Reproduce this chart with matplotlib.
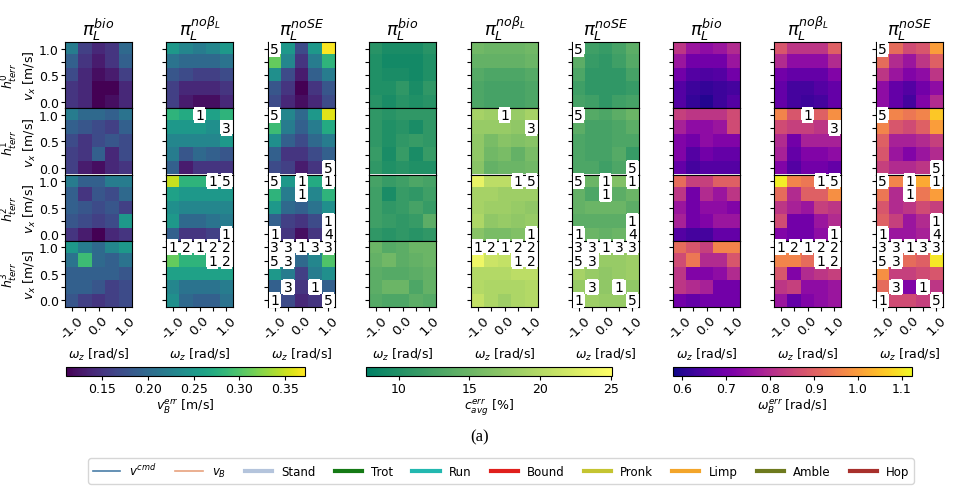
import numpy as np
import matplotlib.pyplot as plt
from matplotlib.lines import Line2D

nan = np.nan

omega_z = [-1.0, -0.5, 0.0, 0.5, 1.0]
v_x = [1.0, 0.75, 0.5, 0.25, 0.0]      # rows of each block, top to bottom
policies = [r'$\pi_L^{bio}$', r'$\pi_L^{no\beta_L}$', r'$\pi_L^{noSE}$']

# each panel: 4 terrain blocks (h0..h3) x 5 rows (v_x 1.0 -> 0.0) x 5 cols (w_z -1 -> 1)
# --- v_B err [m/s]
vel_bio = [
    [0.22, 0.16, 0.14, 0.15, 0.20], [0.19, 0.15, 0.13, 0.15, 0.19], [0.17, 0.14, 0.12, 0.13, 0.16],
    [0.15, 0.14, 0.11, 0.11, 0.14], [0.15, 0.14, 0.11, 0.12, 0.14],
    [0.22, 0.20, 0.20, 0.19, 0.21], [0.19, 0.18, 0.17, 0.16, 0.19], [0.17, 0.15, 0.17, 0.18, 0.17],
    [0.16, 0.15, 0.19, 0.14, 0.17], [0.16, 0.13, 0.12, 0.14, 0.15],
    [0.22, 0.19, 0.19, 0.22, 0.22], [0.19, 0.15, 0.18, 0.17, 0.20], [0.19, 0.18, 0.17, 0.18, 0.16],
    [0.18, 0.17, 0.16, 0.17, 0.25], [0.15, 0.13, 0.11, 0.14, 0.15],
    [0.25, 0.22, 0.20, 0.23, 0.25], [0.21, 0.29, 0.20, 0.19, 0.21], [0.19, 0.19, 0.19, 0.19, 0.18],
    [0.19, 0.19, 0.18, 0.16, 0.17], [0.18, 0.16, 0.15, 0.16, 0.17],
]
vel_nob = [
    [0.25, 0.23, 0.22, 0.23, 0.25], [0.21, 0.20, 0.20, 0.20, 0.21], [0.18, 0.17, 0.16, 0.16, 0.17],
    [0.16, 0.14, 0.14, 0.14, 0.15], [0.16, 0.13, 0.12, 0.12, 0.14],
    [0.28, 0.27, nan, 0.26, 0.28], [0.25, 0.25, 0.25, 0.24, nan], [0.23, 0.23, 0.23, 0.23, 0.25],
    [0.22, 0.18, 0.20, 0.19, 0.18], [0.19, 0.13, 0.15, 0.15, 0.15],
    [0.35, 0.28, 0.28, nan, nan], [0.26, 0.25, 0.25, 0.25, 0.25], [0.24, 0.23, 0.23, 0.23, 0.23],
    [0.25, 0.20, 0.20, 0.21, 0.22], [0.19, 0.15, 0.15, 0.16, nan],
    [nan, nan, nan, nan, nan], [0.31, 0.28, 0.28, nan, nan], [0.26, 0.26, 0.26, 0.26, 0.26],
    [0.23, 0.21, 0.21, 0.21, 0.22], [0.24, 0.20, 0.19, 0.19, 0.21],
]
vel_nose = [
    [nan, 0.25, 0.17, 0.25, 0.37], [0.31, 0.23, 0.15, 0.22, 0.28], [0.24, 0.17, 0.13, 0.19, 0.22],
    [0.18, 0.15, 0.11, 0.15, 0.18], [0.17, 0.14, 0.12, 0.14, 0.17],
    [nan, 0.23, 0.20, 0.25, 0.36], [0.29, 0.22, 0.19, 0.22, 0.27], [0.24, 0.19, 0.17, 0.20, 0.22],
    [0.19, 0.15, 0.15, 0.17, 0.19], [0.17, 0.16, 0.13, 0.15, nan],
    [nan, 0.25, nan, 0.27, nan], [0.28, 0.22, nan, 0.23, 0.28], [0.25, 0.20, 0.19, 0.21, 0.24],
    [0.19, 0.16, 0.15, 0.17, nan], [nan, 0.15, 0.12, 0.15, nan],
    [nan, nan, nan, nan, nan], [nan, nan, 0.20, 0.23, 0.30], [0.25, 0.22, 0.16, 0.22, 0.24],
    [0.19, nan, 0.15, nan, 0.19], [nan, 0.17, 0.14, 0.15, nan],
]

# --- c_avg err [%]
cont_bio = [
    [10.5, 9.5, 9.5, 9.5, 10.5], [10.0, 9.0, 9.0, 9.0, 10.0], [10.0, 9.5, 9.5, 9.0, 10.0],
    [10.0, 10.0, 11.0, 9.5, 11.0], [10.5, 9.5, 10.5, 10.0, 10.5],
    [11.0, 10.5, 11.0, 11.0, 11.0], [11.0, 10.0, 10.5, 9.5, 11.0], [11.0, 10.0, 11.0, 11.5, 11.0],
    [11.5, 9.5, 11.5, 9.5, 11.5], [11.0, 10.0, 10.5, 10.0, 10.0],
    [12.5, 11.5, 12.0, 13.0, 12.5], [12.0, 9.5, 11.5, 11.0, 12.0], [12.0, 11.0, 11.5, 12.5, 11.5],
    [12.0, 11.5, 11.0, 11.5, 14.0], [11.0, 10.5, 11.0, 10.5, 11.0],
    [15.0, 13.5, 14.0, 15.0, 15.0], [14.5, 15.5, 14.0, 14.5, 15.0], [14.0, 13.5, 13.5, 14.0, 14.5],
    [14.0, 15.0, 15.0, 13.0, 14.5], [13.5, 13.0, 13.0, 14.0, 13.5],
]
cont_nob = [
    [15.5, 15.0, 15.0, 15.0, 15.5], [14.5, 14.5, 14.5, 14.5, 15.0], [13.5, 13.0, 13.0, 13.0, 13.5],
    [13.0, 12.5, 12.5, 12.5, 13.0], [13.0, 12.5, 12.5, 12.5, 13.0],
    [19.0, 18.5, nan, 18.0, 19.0], [18.0, 18.0, 18.0, 17.5, nan], [17.5, 16.0, 17.0, 16.5, 17.0],
    [17.5, 15.5, 16.0, 14.5, 16.0], [17.0, 14.5, 15.0, 15.0, 15.5],
    [23.5, 20.5, 20.5, nan, nan], [19.0, 19.0, 18.5, 18.5, 18.5], [19.0, 18.5, 18.5, 18.0, 17.5],
    [19.5, 17.5, 18.0, 17.5, 18.0], [17.0, 16.0, 16.0, 16.5, nan],
    [nan, nan, nan, nan, nan], [24.0, 21.5, 21.0, nan, nan], [20.0, 20.0, 20.0, 20.5, 20.5],
    [20.0, 19.5, 19.5, 19.5, 20.0], [21.0, 19.5, 18.5, 19.5, 20.0],
]
cont_nose = [
    [nan, 12.0, 11.5, 12.5, 14.0], [14.0, 11.5, 11.0, 12.0, 13.5], [13.0, 11.0, 11.0, 11.0, 12.5],
    [12.0, 11.0, 11.0, 11.0, 11.5], [12.5, 12.0, 11.0, 12.0, 12.5],
    [nan, 13.5, 13.0, 14.0, 15.0], [14.0, 12.5, 12.5, 13.0, 14.0], [13.0, 12.5, 12.5, 13.0, 13.0],
    [13.0, 12.5, 12.5, 13.5, 11.5], [13.0, 13.0, 12.0, 13.0, nan],
    [nan, 15.0, nan, 16.5, nan], [14.5, 13.0, nan, 14.0, 15.0], [14.5, 15.0, 15.0, 15.0, 14.0],
    [14.0, 14.0, 14.0, 14.0, nan], [nan, 15.0, 14.5, 15.0, nan],
    [nan, nan, nan, nan, nan], [nan, nan, 18.0, 18.0, 18.5], [19.0, 18.0, 17.5, 18.0, 18.5],
    [18.0, nan, 17.5, nan, 17.5], [nan, 18.5, 18.0, 18.0, nan],
]

# --- w_B err [rad/s]
yaw_bio = [
    [0.82, 0.76, 0.74, 0.76, 0.80], [0.76, 0.70, 0.70, 0.70, 0.76], [0.70, 0.66, 0.65, 0.66, 0.70],
    [0.66, 0.63, 0.62, 0.63, 0.64], [0.66, 0.62, 0.60, 0.63, 0.66],
    [0.84, 0.82, 0.82, 0.82, 0.86], [0.78, 0.74, 0.74, 0.76, 0.86], [0.72, 0.70, 0.74, 0.72, 0.72],
    [0.72, 0.66, 0.70, 0.68, 0.68], [0.68, 0.64, 0.66, 0.66, 0.66],
    [0.92, 0.84, 0.84, 0.90, 0.90], [0.82, 0.70, 0.80, 0.76, 0.82], [0.76, 0.70, 0.74, 0.74, 0.72],
    [0.78, 0.70, 0.72, 0.76, 0.76], [0.66, 0.64, 0.64, 0.68, 0.68],
    [0.92, 0.88, 0.84, 0.96, 0.96], [0.86, 0.94, 0.80, 0.80, 0.88], [0.82, 0.72, 0.72, 0.74, 0.80],
    [0.82, 0.80, 0.78, 0.70, 0.70], [0.70, 0.68, 0.70, 0.70, 0.70],
]
yaw_nob = [
    [0.88, 0.82, 0.82, 0.82, 0.90], [0.80, 0.74, 0.74, 0.74, 0.80], [0.70, 0.68, 0.68, 0.68, 0.72],
    [0.68, 0.64, 0.64, 0.66, 0.68], [0.68, 0.64, 0.63, 0.64, 0.68],
    [0.96, 0.88, nan, 0.90, 0.98], [0.86, 0.84, 0.84, 0.82, nan], [0.80, 0.70, 0.78, 0.78, 0.78],
    [0.78, 0.68, 0.72, 0.72, 0.74], [0.72, 0.66, 0.70, 0.70, 0.68],
    [1.11, 0.96, 0.94, nan, nan], [0.92, 0.80, 0.90, 0.90, 0.98], [0.82, 0.78, 0.76, 0.84, 0.82],
    [0.86, 0.70, 0.70, 0.76, 0.80], [0.72, 0.70, 0.70, 0.74, nan],
    [nan, nan, nan, nan, nan], [0.96, 0.96, 0.92, nan, nan], [0.88, 0.72, 0.80, 0.82, 0.84],
    [0.82, 0.84, 0.74, 0.74, 0.76], [0.76, 0.68, 0.72, 0.74, 0.76],
]
yaw_nose = [
    [nan, 0.92, 0.86, 0.88, 1.00], [0.92, 0.80, 0.76, 0.82, 0.90], [0.82, 0.76, 0.72, 0.74, 0.82],
    [0.74, 0.68, 0.66, 0.70, 0.74], [0.74, 0.68, 0.64, 0.72, 0.80],
    [nan, 0.96, 0.94, 0.96, 1.06], [0.96, 0.88, 0.86, 0.90, 1.00], [0.90, 0.78, 0.78, 0.80, 0.84],
    [0.88, 0.76, 0.72, 0.76, 0.80], [0.84, 0.80, 0.80, 0.82, nan],
    [nan, 0.96, nan, 1.02, nan], [0.94, 0.80, nan, 0.94, 1.00], [0.88, 0.80, 0.82, 0.86, 0.84],
    [0.90, 0.84, 0.76, 0.80, nan], [nan, 0.76, 0.76, 0.78, nan],
    [nan, nan, nan, nan, nan], [nan, nan, 0.92, 0.90, 1.10], [0.98, 0.84, 0.84, 0.86, 0.88],
    [0.92, nan, 0.72, nan, 0.82], [nan, 0.86, 0.86, 0.84, nan],
]

# numbers written in the white cells (same for every metric)
lbl_bio = ["     "] * 20
lbl_nob = ["     ", "     ", "     ", "     ", "     ",
           "  1  ", "    3", "     ", "     ", "     ",
           "   15", "     ", "     ", "     ", "    1",
           "12122", "   12", "     ", "     ", "     "]
lbl_nose = ["5    ", "     ", "     ", "     ", "     ",
            "5    ", "     ", "     ", "     ", "    5",
            "5 1 1", "  1  ", "     ", "    1", "1   4",
            "33133", "53   ", "     ", " 3 1 ", "1   5"]

metrics = [
    ([vel_bio, vel_nob, vel_nose], 'viridis', 0.11, 0.372, [0.15, 0.20, 0.25, 0.30, 0.35],
     r'$v_B^{err}$ [m/s]'),
    ([cont_bio, cont_nob, cont_nose], 'summer', 7.7, 25.1, [10, 15, 20, 25],
     r'$c_{avg}^{err}$ [%]'),
    ([yaw_bio, yaw_nob, yaw_nose], 'plasma', 0.58, 1.123, [0.6, 0.7, 0.8, 0.9, 1.0, 1.1],
     r'$\omega_B^{err}$ [rad/s]'),
]
labels = [lbl_bio, lbl_nob, lbl_nose]

W, H = 960, 489
fig = plt.figure(figsize=(W / 100, H / 100), dpi=100)

col_left = [65, 166, 268, 369, 471, 572, 673, 774, 876]
ax_w = 67
top = 43
blk_h = 66.25
cbar_pos = [(66, 305), (366, 612), (673, 912)]
fs = 9

for m, (panels, cname, vmin, vmax, cticks, clabel) in enumerate(metrics):
    cmap = plt.get_cmap(cname).copy()
    cmap.set_bad('white')
    for p in range(3):
        data = np.array(panels[p], dtype=float)
        lbl = labels[p]
        x0 = col_left[m * 3 + p]
        for b in range(4):
            y_top = top + b * blk_h
            ax = fig.add_axes([x0 / W, 1 - (y_top + blk_h) / H, ax_w / W, blk_h / H])
            im = ax.imshow(data[b * 5:(b + 1) * 5], cmap=cmap, vmin=vmin, vmax=vmax,
                           extent=[-1.25, 1.25, -0.125, 1.125], aspect='auto',
                           interpolation='nearest')
            for i in range(5):
                for j in range(5):
                    ch = lbl[b * 5 + i][j]
                    if ch != ' ':
                        ax.text(omega_z[j], v_x[i], ch, ha='center', va='center', fontsize=10,
                                bbox=dict(fc='white', ec='none', pad=0.8))
            ax.set_yticks([0, 0.25, 0.5, 0.75, 1.0])
            ax.set_xticks(omega_z)
            if m == 0 and p == 0:
                ax.set_yticklabels(['0.0', '', '0.5', '', '1.0'], fontsize=fs)
                yc = 1 - (y_top + blk_h / 2) / H
                fig.text(10 / W, yc, '$h_{terr}^%d$' % b, rotation=90, ha='center',
                         va='center', fontsize=fs)
                fig.text(30 / W, yc, '$v_x$ [m/s]', rotation=90, ha='center', va='center',
                         fontsize=fs)
            else:
                ax.set_yticklabels([])
            if b == 3:
                ax.set_xticklabels(['-1.0', '', '0.0', '', '1.0'], rotation=45, fontsize=fs + 0.5)
                ax.set_xlabel(r'$\omega_z$ [rad/s]', fontsize=fs, labelpad=4)
            else:
                ax.set_xticklabels([])
                ax.tick_params(axis='x', length=0)
            ax.tick_params(length=3, pad=1.5)
            if b == 0:
                ax.set_title(policies[p], fontsize=13, pad=3)

    cl, cr = cbar_pos[m]
    cax = fig.add_axes([cl / W, 1 - 377 / H, (cr - cl) / W, 9 / H])
    cb = fig.colorbar(im, cax=cax, orientation='horizontal')
    cb.set_ticks(cticks)
    cb.ax.tick_params(labelsize=fs, length=3, pad=1)
    cb.set_label(clabel, fontsize=fs, labelpad=1)

fig.text(0.5, 1 - 437 / H, '(a)', ha='center', va='center', fontsize=12,
         family='Liberation Serif')

leg_names = [r'$v^{cmd}$', r'$v_B$', 'Stand', 'Trot', 'Run', 'Bound', 'Pronk', 'Limp',
             'Amble', 'Hop']
leg_colors = ['#4a7ea8', '#e8a27e', '#b4c4dc', '#157a15', '#22b8b0', '#e0201c', '#c4c431',
              '#f3a52a', '#6e7a1e', '#a8302c']
leg_widths = [1.2, 1.2, 3, 3, 3, 3, 3, 3, 3, 3]
handles = [Line2D([], [], color=c, lw=w) for c, w in zip(leg_colors, leg_widths)]
fig.legend(handles, leg_names, loc='center', bbox_to_anchor=(0.522, 1 - 472 / H), ncol=10,
           fontsize=8.5, handlelength=2.3, columnspacing=1.6, handletextpad=0.8,
           borderpad=0.35, frameon=True)

fig.savefig('out.png', dpi=100)
